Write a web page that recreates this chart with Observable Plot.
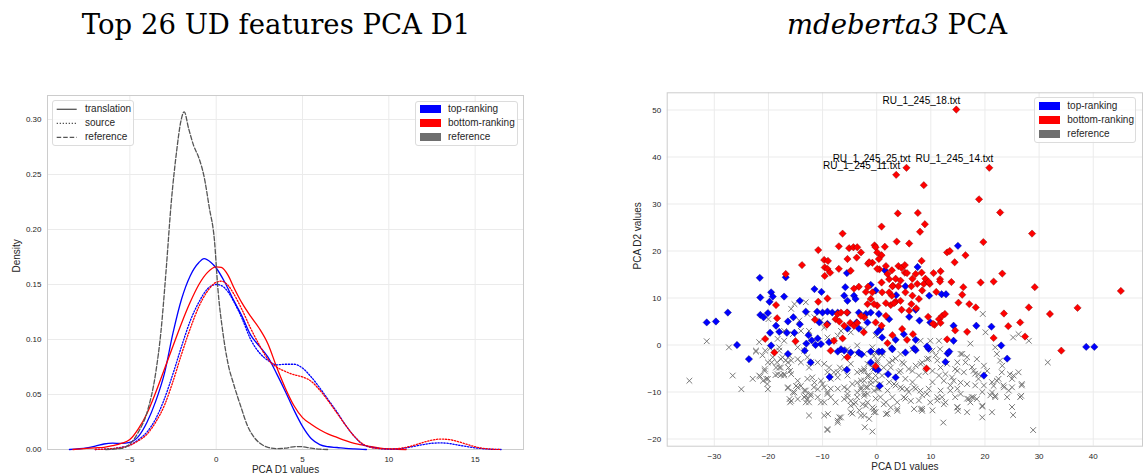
<!DOCTYPE html>
<html><head><meta charset="utf-8">
<script src="https://cdn.jsdelivr.net/npm/d3@7"></script>
<script src="https://cdn.jsdelivr.net/npm/@observablehq/plot@0.6"></script>
<style>
body{margin:0;background:#fff;}
#wrap{position:relative;width:1146px;height:475px;overflow:hidden;font-family:"Liberation Sans",Arial,sans-serif;background:#fff;}
.title{position:absolute;font-family:"DejaVu Serif",serif;font-size:27.5px;color:#000;white-space:nowrap;transform:translate(-50%,-50%);line-height:1;}
.lg{position:absolute;background:rgba(255,255,255,0.8);border:1px solid #dcdcdc;border-radius:3px;box-sizing:border-box;}
.lgt{position:absolute;font-size:10px;color:#262626;white-space:nowrap;line-height:1;transform:translateY(-50%);}
.lgp{position:absolute;}
</style></head><body><div id="wrap"></div>
<script>
// ---------------- Left panel: KDE curves ----------------
const topTransX = [-8.5,-7.5,-7,-6.5,-6,-5.5,-5,-4.5,-4,-3.5,-3,-2.5,-2,-1.5,-1,-0.7,-0.3,0,0.5,1,1.5,2,2.5,3,3.5,4,4.5,5,5.5,6,6.5,7,7.5,8,8.7];
const topTransY = [0,0.0015,0.003,0.005,0.0058,0.0055,0.0065,0.012,0.025,0.044,0.069,0.106,0.137,0.158,0.170,0.1735,0.170,0.165,0.152,0.136,0.121,0.104,0.094,0.084,0.069,0.053,0.036,0.021,0.010,0.0045,0.0025,0.0018,0.001,0.0005,0];

const bottomTransX = [-8.3,-7.5,-7,-6.5,-6,-5.5,-5,-4.5,-4,-3.5,-3,-2.5,-2,-1.5,-1,-0.5,0,0.3,0.7,1,1.5,2,2.5,3,3.5,4,4.5,5,5.5,6,6.5,7,7.5,8,8.5,9,9.5,10,10.5,11];
const bottomTransY = [0,0.001,0.0015,0.002,0.0035,0.0055,0.009,0.019,0.033,0.052,0.073,0.094,0.115,0.134,0.150,0.161,0.166,0.1655,0.158,0.148,0.133,0.121,0.110,0.096,0.075,0.056,0.040,0.029,0.023,0.018,0.014,0.011,0.008,0.0055,0.004,0.0025,0.0012,0.0005,0.0002,0];

const topSourceX = [-7,-6,-5.5,-5,-4.5,-4,-3.5,-3,-2.5,-2,-1.5,-1,-0.5,0,0.3,0.7,1,1.5,2,2.5,3,3.5,4,4.5,5,5.5,6,6.5,7,7.5,8,8.5,9,9.5,10,10.5,11,11.5,12,12.5,13,13.5,14,14.5,15,15.5,16,16.5];
const topSourceY = [0,0.0008,0.002,0.004,0.009,0.016,0.028,0.046,0.069,0.094,0.117,0.134,0.146,0.150,0.149,0.143,0.135,0.119,0.100,0.088,0.081,0.077,0.0775,0.0775,0.074,0.066,0.056,0.045,0.034,0.022,0.012,0.0045,0.002,0.0008,0.0004,0.0006,0.0015,0.003,0.0045,0.0057,0.006,0.0055,0.004,0.0027,0.0015,0.0007,0.0002,0];

const bottomSourceX = [-7,-6,-5.5,-5,-4.5,-4,-3.5,-3,-2.5,-2,-1.5,-1,-0.5,0,0.3,0.7,1,1.5,2,2.5,3,3.5,4,4.5,5,5.5,6,6.5,7,7.5,8,8.5,9,9.5,10,10.5,11,11.5,12,12.5,13,13.5,14,14.5,15,15.5,16,16.5];
const bottomSourceY = [0,0.0008,0.0018,0.0038,0.008,0.014,0.025,0.040,0.062,0.087,0.110,0.130,0.144,0.152,0.153,0.149,0.142,0.127,0.110,0.095,0.082,0.075,0.071,0.068,0.066,0.062,0.054,0.044,0.033,0.022,0.012,0.005,0.0018,0.0008,0.0005,0.0008,0.002,0.004,0.0065,0.0085,0.0095,0.009,0.0072,0.0048,0.0025,0.001,0.0003,0];

const referenceX = [-6.4,-5.5,-5,-4.5,-4,-3.5,-3.2,-2.9,-2.6,-2.3,-2.05,-1.85,-1.6,-1.3,-1.0,-0.7,-0.4,-0.1,0.1,0.4,0.7,1.0,1.45,1.8,2.2,2.6,3.0,3.5,4.0,4.6,5.0,5.5,6.0,6.5];
const referenceY = [0,0.001,0.005,0.016,0.034,0.07,0.107,0.163,0.225,0.27,0.298,0.307,0.292,0.276,0.265,0.248,0.22,0.19,0.146,0.105,0.077,0.060,0.038,0.022,0.011,0.005,0.002,0.0008,0.0012,0.0027,0.0025,0.0012,0.0003,0];

const leftXTicks = [-5,0,5,10,15];
const leftYTicks = [0,0.05,0.10,0.15,0.20,0.25,0.30];

// ---------------- Right panel: PCA scatter ----------------
const bottomPoints = [[14.7,50.1],[5.5,37.7],[3.6,36.2],[20.8,37.7],[8.7,34.0],[18.9,31.0],[3.9,28.0],[7.6,28.1],[22.8,28.2],[0.9,25.2],[8.9,25.7],[8.0,24.1],[28.7,23.7],[-0.4,21.2],[1.5,20.9],[3.7,22.0],[6.0,21.6],[19.7,21.9],[-2.9,19.7],[0.9,19.1],[13.0,19.7],[13.5,20.0],[16.4,19.1],[-1.6,17.3],[-0.8,17.5],[1.7,16.8],[0.5,16.1],[4.0,16.8],[4.6,16.4],[5.2,17.0],[8.3,17.9],[14.4,17.6],[5.2,15.4],[8.3,15.4],[10.5,15.3],[11.8,15.7],[23.2,15.2],[45.1,11.5],[29.2,12.3],[21.6,13.5],[19.2,13.3],[16.0,12.3],[15.8,10.7],[13.8,13.4],[15.1,9.0],[17.1,8.7],[18.3,8.0],[28.1,8.0],[37.1,7.9],[32.0,6.6],[23.5,6.7],[26.5,4.8],[24.3,4.0],[21.6,1.5],[27.4,1.8],[16.7,2.8],[14.5,3.1],[13.0,1.2],[34.1,-1.2],[9.2,-5.0],[-0.2,-4.5],
[2.0,15.1],[2.3,14.0],[5.6,15.3],[11.7,14.0],[11.7,13.5],[0.9,13.3],[3.0,12.6],[4.0,12.5],[2.9,12.5],[6.4,12.5],[7.5,13.0],[8.7,13.0],[9.8,13.0],[11.0,11.3],
[1.0,11.2],[2.8,10.5],[3.5,9.2],[2.6,8.5],[1.7,8.9],[0.1,8.4],[4.4,9.4],[3.2,8.9],[4.6,7.5],[6.0,7.3],[7.3,7.8],[6.4,8.7],[1.7,6.2],[-0.2,4.8],[0.9,4.1],[4.7,3.4],[2.9,2.1],[2.0,0.4],[5.6,1.1],[6.7,2.3],[9.5,6.0],[11.5,5.5],[12.1,6.2],[12.6,6.6],[10.7,4.3],[10.4,4.5],[11.8,4.7],
[-0.2,20.8],[0.1,19.7],[2.8,15.9],[3.5,14.1],[4.4,13.7],[6.6,14.1],[7.2,15.1],[9.0,14.1],[9.6,13.4],[2.3,11.2],[5.3,11.2],[6.6,10.5],[7.8,9.8],[8.4,11.6],
[-6.3,23.7],[-10.8,20.2],[-7.0,21.0],[-5.1,20.6],[-4.3,20.8],[-3.6,20.8],[-3.7,18.6],[-5.4,18.3],[-9.7,18.1],[-9.0,17.9],[-13.8,17.0],[-16.8,15.1],[-9.6,16.5],[-9.1,16.2],[-8.6,15.4],[-9.6,14.7],[-7.0,16.2],[-4.8,15.8],[-1.4,17.6],[0.1,16.2],[0.4,18.3],[-1.6,12.4],[-3.3,12.4],[-4.2,12.0],[-0.8,11.2],[-2.0,11.3],[-1.1,9.8],[-1.7,8.7],[-0.5,8.7],[-18.6,8.5],[-18.4,5.7],[-10.8,9.2],[-9.1,9.9],[-11.4,5.4],[-9.2,4.3],[-7.2,6.6],[-6.6,6.9],[-5.5,6.9],[-7.6,5.5],[-6.9,5.0],[-6.0,4.1],[-4.9,4.7],[-4.2,4.1],[-3.6,4.7],[-2.4,2.7],[-2.3,5.9],[-2.9,6.2],[-20.6,1.3],[-18.9,-1.6],[-15.0,0.8],[-7.9,0.9],[-6.3,1.4],[-8.5,-1.2],[-5.4,-2.6]];

const topPoints = [[-31.4,4.8],[-29.7,5.0],[-27.5,6.9],[-25.8,0],[-23.6,-3.0],[-21.6,14.3],[-21.5,10.1],[-21.5,6.4],[-20.9,5.9],[-20.1,6.8],[-19.5,11.2],[-19.2,10.3],[-19.8,9.2],[-19.7,2.6],[-19.5,-0.1],[-18.6,4.1],[-18.0,2.8],[-17.1,10.3],[-16.8,14.4],[-16.4,5.0],[-15.4,5.9],[-16.6,2.6],[-15.2,2.6],[-16.4,-1.9],[-14.2,9.4],[-14.2,4.4],[-12.6,2.1],[-13.3,-1.2],[-12.2,-3.7],[-11.5,11.9],[-10.2,11.3],[-11.0,7.1],[-10.0,6.9],[-9.1,7.1],[-10.9,1.4],[-10.3,0.2],[-8.8,0.6],[-10.6,4.8],[-9.1,4.5],[-13.1,7.1],[-8.2,6.9],[-7.2,6.9],[-7.2,-1.4],[-6.6,-0.9],[-8.7,-6.8],[-6.0,10.5],[-5.4,9.4],[-4.2,10.5],[-3.9,9.8],[-5.8,12.3],[-1.1,12.8],[-0.2,11.6],[-5.4,6.9],[-3.3,6.9],[-2.0,6.6],[-1.1,6.9],[-3.7,4.8],[-1.7,4.8],[0.1,2.7],[-5.4,3.5],[-3.3,3.5],[-6.0,-1.2],[-4.8,-1.6],[-3.3,-1.6],[-1.1,-1.4],[0.4,-1.4],[-5.5,-5.3],[-1.1,-3.7],[-12.0,1.0],[-13.0,0.3],[-11.3,0.0],[-5.5,15.3],
[15.0,21.1],[7.55,16.6],[1.5,15.9],[38.7,-0.4],[40.2,-0.4],[24.1,-2.9],[19.8,-6.5],[23.0,-0.1],[21.2,3.9],[18.4,4.1],[14.2,4.1],[14.2,0.9],[13.1,-1.8],[13.4,-1.4],[9.7,10.5],[12.0,10.8],[12.8,10.8],[7.9,5.2],[9.6,-0.8],[7.2,1.1],[7.2,-1.1],[5.0,2.3],[3.5,1.1],[2.8,-0.7],[1.0,-1.4],[-2.8,-2.0],[2.1,-6.2],[0.55,-8.7],[0.25,-5.3],[5.3,12.5],[6.0,6.0],[9.9,4.8],[7.2,7.5],[3.6,10.6],[0.4,6.6],[2.3,5.5],[0.7,3.4],[1.0,1.6],[2.9,-0.9],[6.9,-0.7],[5.3,-1.6],[9.3,-0.3],[12.7,-3.6],[3.5,-6.9],[-0.2,-5.1]];

const referencePoints = [[-34.6,-7.6],[-31.4,0.8],[-27.3,-0.5],[-26.6,-6.5],[-25.0,-9.4],[-22.9,-7.2],[-22.3,-1.4],[-21.5,-6.7],[-20.7,-5.1],[-20.4,-7.2],[-20.1,-9.4],[-20.2,-8.3],[-20.6,-1.2],[-19.7,-0.7],[-19.2,-2.6],[-19.4,-3.7],[-18.6,-4.8],[-18.3,-6.2],[-17.7,-4.8],[-17.4,-2.6],[-16.8,-3.3],[-17.1,-6.5],[-16.0,-5.5],[-15.8,-3.3],[-16.4,-9.0],[-16.1,-11.5],[-16.0,-12.2],[-15.5,-10.1],[-14.9,-8.7],[-14.6,-7.6],[-14.0,-8.7],[-13.4,-9.7],[-13.1,-10.8],[-12.8,-11.5],[-12.5,-12.2],[-13.1,-12.2],[-12.2,-10.4],[-11.9,-6.9],[-11.6,-9.0],[-12.5,-15.0],[-10.9,-11.1],[-10.3,-12.2],[-9.7,-12.2],[-9.1,-10.4],[-8.5,-11.1],[-9.7,-9.0],[-10.3,-7.6],[-9.7,-15.0],[-9.0,-14.7],[-9.1,-18.1],[-7.2,-16.5],[-6.6,-15.4],[-8.8,-4.8],[-7.9,-5.8],[-7.2,-6.9],[-6.8,-4.8],[-6.0,-9.0],[-5.4,-10.4],[-4.8,-11.9],[-4.2,-12.6],[-3.6,-11.1],[-2.9,-9.0],[-2.3,-7.6],[-1.7,-10.4],[-4.8,-14.3],[-2.9,-15.0],[-2.0,-12.9],[-12.8,-2.6],[-12.2,-3.7],[-13.4,-1.2],[-14.6,-0.5],[-15.5,2.3],[-14.3,5.2],[-12.8,6.6],[-11.5,5.9],[-10.3,5.2],[-9.7,3.7],[-9.1,1.6],[-7.9,0.9],[-6.0,-2.6],[-4.8,-4.0],[-3.6,-1.9],[-18.0,-1.2],[-17.1,0.9],[-18.3,1.3],[-21.7,0.6],[-20.0,5.5],
[19.6,6.6],[20.1,2.7],[25.2,1.6],[26.2,2.3],[28.1,0.9],[31.6,-3.7],[21.9,-0.5],[22.2,-1.9],[22.8,-3.3],[23.2,-4.4],[26.2,-5.8],[25.3,-6.5],[26.8,-8.3],[25.0,-9.0],[26.7,-10.8],[21.3,-10.1],[21.9,-10.8],[22.2,-7.6],[20.4,-5.5],[19.5,-13.1],[19.8,-4.4],[18.5,-3.0],[16.7,-2.6],[15.5,-1.9],[14.9,-5.5],[13.9,-6.9],[12.4,-7.6],[11.8,-9.7],[11.2,-11.1],[12.4,-12.6],[9.9,-12.2],[12.3,-16.5],[25.2,-14.9],[28.9,-18.1],[19.5,-15.4],[17.0,-11.5],[17.3,-12.2],[14.9,-13.3],[15.0,-14.0],[16.7,-14.3],[8.4,-14.0],[8.1,-13.6],[6.9,-13.6],[3.8,-14.0],[1.7,-14.7],[-0.5,-14.3],[-2.2,-17.5],[-0.8,-18.4],[8.1,0.9],[9.9,0.9],[11.5,0.9],[10.3,-1.2],[11.7,-0.9],[9.3,-3.0],[11.2,-3.3],[8.1,-4.0],[10.3,-5.5],[11.8,-4.8],[13.0,-4.0],[6.6,-5.5],[5.0,-4.0],[4.4,-5.5],[2.6,-4.8],[1.3,-4.8],[0.1,-3.3],[-0.8,-4.8],[-1.7,-4.0],[-2.9,-5.5],[4.4,-9.0],[5.6,-9.4],[6.9,-9.0],[8.1,-9.7],[9.3,-10.4],[3.2,-8.3],[2.0,-9.7],[0.7,-11.1],[-0.5,-9.7],[-1.7,-9.0],[-2.3,-10.4],[-2.6,-12.6],[5.0,-11.1],[6.3,-11.9],[3.8,-12.2],[1.3,-12.6],[2.6,-13.3],[0.7,-8.3],[-1.1,-7.6],[-0.2,-6.5],[-1.4,-6.5],[-2.9,-7.6],[-2.3,-5.5],[6.6,-0.9],[4.4,-1.9],[2.9,-3.3],[1.0,-1.6],[-0.5,-2.3],[12.7,-6.2],[14.2,-7.6],[15.5,-8.0],[13.6,-9.7],[15.5,-10.4],[16.7,-8.3],[17.9,-5.5],[18.8,-6.2],[17.9,-11.1],[18.5,-11.5],[23.5,-9.0],[24.1,-11.1],[21.6,-8.7],[24.6,-6.2],
[-21.7,-6.5],[-21.0,-7.6],[-20.1,-7.2],[-20.7,-5.5],[-18.7,-6.4],[-18.0,-4.8],[-17.7,-6.4],[-17.1,-6.2],[-15.8,-6.2],[-16.4,-3.7],[-16.3,-4.8],[-17.7,-3.0],[-16.1,-2.3],[-14.6,-3.0],[-16.4,-9.2],[-15.2,-10.1],[-15.8,-11.9],[-14.6,-11.5],[-13.4,-11.1],[-12.8,-7.2],[-11.5,-8.0],[-10.9,-9.4],[-14.6,-9.0],[-13.1,-9.7],[-12.2,-10.8],[-6.9,-15.4],[-7.2,-16.1],[-9.1,-17.9],[-7.6,-12.2],[-6.0,-11.5],[-4.8,-12.9],[-5.4,-9.4],[-3.6,-10.1],[-3.6,-8.0],[-2.3,-10.8],[-1.7,-12.2],[-0.8,-13.3],[-0.2,-14.3],[-2.3,-15.0],[-2.9,-9.4],[-1.1,-8.3],[-14.0,-3.7],[-12.5,-4.8],[-10.9,-3.7],[-9.7,-4.0],[-9.1,-5.8],[-8.5,-7.2],[-7.2,-5.8],[-6.0,-5.1],[-5.4,-6.5],[-3.6,-5.8],[-2.3,-5.1],[-1.7,-6.5],[-0.5,-5.1],[0.1,-3.7],[-15.2,8.7],[-15.8,7.7],[-13.1,9.1],[-12.5,3.0],[-14.0,3.0],[-17.1,3.0],[-6.6,3.0],[-4.8,2.7],[-2.3,3.4],[-0.2,2.0],[-7.2,2.0],[-3.6,-0.1],[-5.4,-0.9],[-0.8,-0.5],[-2.3,-1.9],[-0.2,-1.6],
[17.3,0.3],[15.8,-1.9],[16.4,-3.7],[14.9,-3.7],[16.1,-5.8],[14.5,-5.1],[17.6,-4.7],[18.2,-6.1],[18.8,-7.2],[19.8,-8.6],[18.2,-8.6],[19.5,-10.0],[21.0,-10.7],[21.3,-7.9],[22.5,-7.2],[23.1,-5.8],[23.4,-8.6],[24.4,-9.7],[25.0,-7.2],[26.8,-8.6],[26.5,-11.1],[25.0,-13.2],[21.9,-11.1],[21.3,-14.3],[19.5,-12.9],[17.6,-11.1],[16.7,-11.4],[14.9,-13.2],[14.5,-11.1],[14.9,-9.3],[13.6,-8.6],[12.1,-11.1],[12.7,-12.2],[11.2,-11.8],[10.3,-13.9],[8.4,-13.6],[3.8,-13.6],[2.0,-14.6],[1.7,-12.2],[-0.2,-11.4],
[1.0,-2.2],[2.3,-3.7],[3.5,-2.9],[4.7,-3.7],[5.9,-5.1],[7.2,-4.4],[8.4,-3.7],[9.6,-2.9],[10.9,-2.2],[4.1,-5.8],[5.3,-7.2],[6.6,-7.9],[7.8,-6.5],[9.0,-5.8],[10.3,-7.9],[11.5,-6.5],[3.5,-8.6],[4.7,-9.3],[5.9,-10.0],[7.2,-9.3],[8.4,-10.7],[9.6,-9.3],[2.3,-7.9],[1.0,-6.5],[0.4,-9.3],[2.9,-11.1],[5.3,-11.4],[7.8,-11.8],
[-22.3,-1.2],[-21.1,-2.2],[-20.1,-3.7],[-18.0,-0.5],[-18.4,-3.7],[-7.2,-9.3],[-8.5,-9.3],[-10.0,-8.3],[-9.1,-10.0],[-4.5,-8.3],[-5.4,-11.1],[-3.9,-12.2],[-2.0,-9.0],[-3.2,-13.9],[-1.4,-15.7],[-4.5,-14.6],[-0.5,-13.6],[0.1,-9.3],[-0.2,-7.6]];

const labelNames = ["RU_1_245_18.txt","RU_1_245_25.txt","RU_1_245_14.txt","RU_1_245_11.txt"];
const labelX = [14.7,5.5,20.8,3.6];
const labelY = [50.1,37.7,37.7,36.2];

const rightXTicks = [-30,-20,-10,0,10,20,30,40];
const rightYTicks = [-20,-10,0,10,20,30,40,50];

const legendLineNames = ["translation","source","reference"];
const legendPatchNames = ["top-ranking","bottom-ranking","reference"];
const legendPatchColors = ["#0000ff","#ff0000","#6e6e6e"];

// ---------------- drawing ----------------
const wrap = document.getElementById("wrap");
function addDiv(cls, css, html, parent) {
  const d = document.createElement("div");
  if (cls) d.className = cls;
  d.style.cssText = css;
  if (html != null) d.innerHTML = html;
  (parent || wrap).appendChild(d);
  return d;
}
const minus = d => (d < 0 ? "\u2212" : "") + Math.abs(d);
const FONT = "'Liberation Sans', Arial, sans-serif";
const gridColor = "#ebebeb", frameColor = "#cccccc", textColor = "#262626";

function toRows(xs, ys) { return xs.map((x, i) => ({x, y: ys[i]})); }

const lineStyles = [
  {rows: toRows(topTransX, topTransY), stroke: "#0000ff", dash: null},
  {rows: toRows(bottomTransX, bottomTransY), stroke: "#ff0000", dash: null},
  {rows: toRows(topSourceX, topSourceY), stroke: "#0000ff", dash: "1.3,1.7"},
  {rows: toRows(bottomSourceX, bottomSourceY), stroke: "#ff0000", dash: "1.3,1.7"},
  {rows: toRows(referenceX, referenceY), stroke: "#555555", dash: "4.5,2"}
];

const left = Plot.plot({
  width: 540, height: 390,
  marginLeft: 47, marginRight: 17, marginTop: 10, marginBottom: 26,
  x: {domain: [-9.77, 17.8]},
  y: {domain: [0, 0.3218]},
  style: {fontFamily: FONT, fontSize: "8px", color: textColor, background: "transparent", overflow: "visible"},
  marks: [
    Plot.gridX(leftXTicks, {stroke: gridColor, strokeOpacity: 1, strokeWidth: 1}),
    Plot.gridY(leftYTicks, {stroke: gridColor, strokeOpacity: 1, strokeWidth: 1}),
    Plot.frame({stroke: frameColor, strokeWidth: 1}),
    Plot.axisX(leftXTicks, {tickSize: 0, tickPadding: 7, tickFormat: minus, label: null, fontSize: 8}),
    Plot.axisY(leftYTicks, {tickSize: 0, tickPadding: 6, tickFormat: d3.format(".2f"), label: null, fontSize: 8}),
    Plot.text(["PCA D1 values"], {frameAnchor: "bottom", dy: 20, lineAnchor: "middle", fontSize: 10, fill: textColor}),
    Plot.text(["Density"], {frameAnchor: "left", dx: -31, rotate: -90, lineAnchor: "middle", fontSize: 10, fill: textColor}),
    ...lineStyles.map(s => Plot.line(s.rows, {x: "x", y: "y", stroke: s.stroke, strokeWidth: 1.3, strokeDasharray: s.dash, curve: "monotone-x"}))
  ]
});
left.style.position = "absolute"; left.style.left = "0px"; left.style.top = "85px";
wrap.appendChild(left);

const right = Plot.plot({
  width: 556, height: 390,
  marginLeft: 76.7, marginRight: 4, marginTop: 7.3, marginBottom: 29.3,
  x: {domain: [-38.7, 49.1]},
  y: {domain: [-21.53, 53.66]},
  style: {fontFamily: FONT, fontSize: "8px", color: textColor, background: "transparent", overflow: "visible"},
  marks: [
    Plot.gridX(rightXTicks, {stroke: gridColor, strokeOpacity: 1, strokeWidth: 1}),
    Plot.gridY(rightYTicks, {stroke: gridColor, strokeOpacity: 1, strokeWidth: 1}),
    Plot.frame({stroke: frameColor, strokeWidth: 1}),
    Plot.axisX(rightXTicks, {tickSize: 0, tickPadding: 7, tickFormat: minus, label: null, fontSize: 8}),
    Plot.axisY(rightYTicks, {tickSize: 0, tickPadding: 6, tickFormat: minus, label: null, fontSize: 8}),
    Plot.text(["PCA D1 values"], {frameAnchor: "bottom", dy: 21, lineAnchor: "middle", fontSize: 10, fill: textColor}),
    Plot.text(["PCA D2 values"], {frameAnchor: "left", dx: -29, rotate: -90, lineAnchor: "middle", fontSize: 10, fill: textColor}),
    Plot.dot(referencePoints, {x: d => d[0], y: d => d[1], symbol: "times", r: 2.7, stroke: "#6a6a6a", strokeWidth: 0.9}),
    Plot.dot(topPoints, {x: d => d[0], y: d => d[1], symbol: "diamond2", r: 3.3, fill: "#0000ff", stroke: "#00006a", strokeWidth: 0.4}),
    Plot.dot(bottomPoints, {x: d => d[0], y: d => d[1], symbol: "diamond2", r: 3.3, fill: "#ff0000", stroke: "#7a0000", strokeWidth: 0.4}),
    Plot.text(labelNames, {x: (d, i) => labelX[i], y: (d, i) => labelY[i], text: d => d, textAnchor: "end", lineAnchor: "bottom", dx: 4, dy: -6, fontSize: 10, fill: "#000"})
  ]
});
right.style.position = "absolute"; right.style.left = "590px"; right.style.top = "85px";
wrap.appendChild(right);

// titles
addDiv("title", "left:276px;top:25px;", "Top 26 UD features PCA D1");
addDiv("title", "left:897px;top:25px;", "<i>mdeberta3</i> PCA");

// legends
function patchLegend(lx, ly, w, h, rows) {
  const box = addDiv("lg", `left:${lx}px;top:${ly}px;width:${w}px;height:${h}px;`);
  legendPatchNames.forEach((name, i) => {
    addDiv("lgp", `left:4px;top:${rows[i] - 4.2}px;width:20.5px;height:8.4px;background:${legendPatchColors[i]};`, null, box);
    addDiv("lgt", `left:32px;top:${rows[i]}px;`, name, box);
  });
}
patchLegend(415, 100.7, 102.5, 45, [7.6, 21.6, 35.6]);
patchLegend(1034.3, 97.3, 102, 45.4, [7.7, 21.9, 35.9]);

const lbox = addDiv("lg", "left:52.3px;top:100px;width:81.7px;height:45.7px;");
const dashes = [null, "1.3,1.7", "4.5,2"];
const ns = "http://www.w3.org/2000/svg";
const lsvg = document.createElementNS(ns, "svg");
lsvg.setAttribute("width", "30"); lsvg.setAttribute("height", "46");
lsvg.style.cssText = "position:absolute;left:0;top:0;";
[8.3, 22.3, 36.3].forEach((y, i) => {
  const ln = document.createElementNS(ns, "line");
  ln.setAttribute("x1", 3.7); ln.setAttribute("x2", 23.7);
  ln.setAttribute("y1", y); ln.setAttribute("y2", y);
  ln.setAttribute("stroke", "#555555"); ln.setAttribute("stroke-width", 1.3);
  if (dashes[i]) ln.setAttribute("stroke-dasharray", dashes[i]);
  lsvg.appendChild(ln);
  addDiv("lgt", `left:31.7px;top:${y}px;`, legendLineNames[i], lbox);
});
lbox.appendChild(lsvg);
</script></body></html>
